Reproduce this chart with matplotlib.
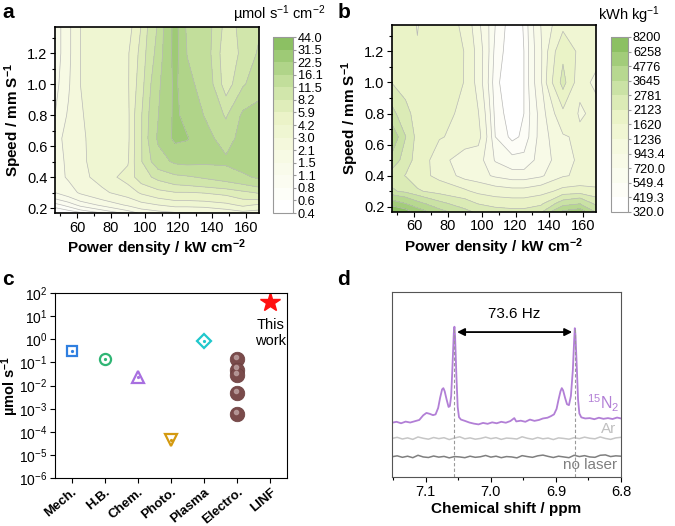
import numpy as np
import matplotlib
matplotlib.use('Agg')
import matplotlib.pyplot as plt
from matplotlib.colors import LinearSegmentedColormap, BoundaryNorm
from matplotlib.ticker import MultipleLocator, FixedLocator, FormatStrFormatter
from matplotlib.transforms import offset_copy

plt.rcParams['font.family'] = ['Liberation Sans', 'DejaVu Sans']
plt.rcParams['mathtext.fontset'] = 'custom'
plt.rcParams['mathtext.rm'] = 'Liberation Sans'
plt.rcParams['mathtext.it'] = 'Liberation Sans:italic'
plt.rcParams['mathtext.bf'] = 'Liberation Sans:bold'

# ---- datos a / b (rejilla potencia x velocidad) ----
power = [47, 55, 62, 75, 90, 98, 108, 118, 125, 135, 148, 158, 167.5]
speed = [0.168, 0.22, 0.3, 0.4, 0.5, 0.65, 0.8, 1.0, 1.2, 1.37]

rate_a = [
    [0.4, 0.45, 0.55, 0.8, 1.2, 1.6, 1.8, 2.0, 2.0, 2.0, 2.3, 2.6, 2.4],
    [0.7, 0.9, 1.2, 1.6, 2.2, 2.6, 3.0, 3.3, 3.3, 3.4, 3.8, 4.5, 4.0],
    [1.5, 1.8, 2.2, 2.8, 3.5, 4.4, 5.2, 5.8, 5.8, 6.0, 6.5, 7.5, 8.5],
    [1.8, 2.2, 2.7, 3.4, 4.8, 7.0, 9.0, 10.5, 11.0, 12.0, 13.5, 15.0, 17.0],
    [1.7, 2.3, 2.8, 3.5, 4.0, 8.0, 14.0, 17.0, 17.5, 17.0, 17.0, 19.0, 22.0],
    [1.8, 2.4, 2.9, 3.3, 3.8, 8.0, 17.0, 24.0, 23.0, 18.0, 14.0, 18.0, 22.0],
    [1.5, 2.2, 2.9, 3.6, 3.8, 8.0, 16.0, 24.0, 20.0, 16.0, 11.0, 17.0, 18.0],
    [1.3, 2.0, 3.0, 3.7, 4.0, 7.0, 15.0, 24.0, 17.0, 15.0, 6.5, 11.0, 14.0],
    [1.2, 1.9, 3.0, 3.8, 4.0, 6.5, 13.0, 25.0, 16.0, 14.0, 6.0, 9.0, 12.0],
    [1.2, 1.9, 3.0, 3.7, 3.4, 6.0, 12.0, 25.0, 15.0, 14.0, 7.0, 9.0, 11.0],
]
energy_b = [
    [8200, 7000, 5500, 4000, 3000, 2600, 2400, 2300, 2300, 2600, 5000, 5500, 3500],
    [5500, 4800, 4000, 3000, 2400, 2100, 1900, 1850, 1850, 2000, 3200, 3600, 2600],
    [2900, 2600, 2200, 1900, 1700, 1500, 1400, 1350, 1350, 1450, 1750, 1800, 1700],
    [2400, 2100, 1800, 1500, 1100, 1050, 900, 800, 800, 900, 1200, 1300, 1400],
    [3300, 2400, 1900, 1400, 1000, 1050, 700, 600, 600, 800, 1100, 1300, 1500],
    [4400, 2800, 1900, 1650, 1500, 1350, 550, 380, 450, 800, 1200, 1300, 1400],
    [3000, 2300, 1900, 1800, 1500, 1250, 500, 340, 420, 800, 1500, 1200, 1300],
    [2100, 1900, 1700, 2000, 1600, 1100, 450, 330, 420, 900, 2300, 1300, 1200],
    [1900, 1800, 1650, 2100, 1600, 1100, 500, 330, 420, 900, 2000, 1500, 1300],
    [1900, 1800, 1600, 2000, 1500, 1000, 550, 330, 430, 950, 1500, 1600, 1400],
]
levels_a = [0.4, 0.6, 0.8, 1.1, 1.5, 2.1, 3.0, 4.2, 5.9, 8.2, 11.5, 16.1, 22.5, 31.5, 44.0]
labels_a = ['0.4', '0.6', '0.8', '1.1', '1.5', '2.1', '3.0', '4.2', '5.9', '8.2',
            '11.5', '16.1', '22.5', '31.5', '44.0']
levels_b = [320, 419.3, 549.4, 720, 943.4, 1236, 1620, 2123, 2781, 3645, 4776, 6258, 8200]
labels_b = ['320.0', '419.3', '549.4', '720.0', '943.4', '1236', '1620', '2123', '2781',
            '3645', '4776', '6258', '8200']

# ---- datos c ----
categories = ['Mech.', 'H.B.', 'Chem.', 'Photo.', 'Plasma', 'Electro.', 'LINF']
single_rates = {'Mech.': 0.32, 'H.B.': 0.135, 'Chem.': 0.024, 'Photo.': 4.5e-5, 'Plasma': 0.8}
electro_rates = [0.135, 0.047, 0.028, 0.0046, 0.00058]
linf_rate = 38

# ---- datos d (espectro RMN) ----
n2_ppm = [7.152, 7.145, 7.138, 7.131, 7.124, 7.117, 7.110, 7.104, 7.099, 7.094, 7.089, 7.085,
          7.081, 7.078, 7.075, 7.073, 7.071, 7.068, 7.065, 7.063, 7.061, 7.059, 7.057, 7.056,
          7.055, 7.053, 7.051, 7.049, 7.046, 7.040, 7.033, 7.026, 7.019, 7.012, 7.005, 6.998,
          6.991, 6.984, 6.977, 6.970, 6.964, 6.961, 6.954, 6.947, 6.940, 6.933, 6.926, 6.920,
          6.913, 6.908, 6.903, 6.899, 6.896, 6.893, 6.891, 6.889, 6.886, 6.883, 6.880, 6.877,
          6.874, 6.872, 6.871, 6.870, 6.868, 6.866, 6.864, 6.861, 6.855, 6.848, 6.841, 6.834,
          6.827, 6.820, 6.813, 6.806, 6.800]
n2_int = [29.5, 30.0, 29.2, 30.1, 29.6, 30.3, 31.0, 33.5, 34.8, 34.3, 33.6, 34.0,
          37.5, 43.0, 47.5, 48.2, 46.5, 42.0, 38.0, 38.5, 44.0, 60.0, 78.0, 81.4,
          76.0, 55.0, 38.0, 32.5, 31.2, 30.5, 29.6, 29.0, 28.6, 29.4, 28.9, 29.7,
          29.2, 30.0, 29.5, 30.4, 32.0, 30.2, 30.6, 30.0, 31.2, 30.5, 31.0, 31.8,
          32.2, 33.0, 34.0, 37.0, 42.0, 46.5, 48.2, 47.0, 43.0, 39.5, 39.0, 44.0,
          58.0, 74.0, 80.6, 77.0, 60.0, 42.0, 34.5, 32.4, 31.8, 32.0, 31.4, 32.2,
          31.6, 32.0, 31.5, 32.3, 31.8]
ar_int = [21.0, 21.6, 20.7, 21.3, 20.5, 21.8, 21.1, 20.6, 21.5, 20.9, 21.4, 20.4,
          21.2, 21.9, 20.8, 21.3, 20.6, 21.0, 21.7, 20.9, 21.4, 20.5, 21.2, 21.0,
          20.7, 21.9, 21.1, 20.6, 21.5, 20.8, 21.2, 20.4, 21.3, 21.0, 20.6, 21.4,
          20.9, 21.7, 21.1, 20.8, 21.8, 21.0, 20.5, 21.3, 21.6]
nolaser_int = [11.1, 11.6, 10.8, 11.4, 10.6, 11.9, 11.0, 10.7, 11.5, 10.9, 11.3, 10.5,
               11.2, 11.0, 10.6, 11.4, 10.8, 11.1, 11.8, 10.9, 11.4, 10.6, 11.2, 11.0,
               10.5, 11.7, 11.2, 10.8, 11.6, 12.0, 11.3, 10.7, 11.4, 11.0, 10.6, 11.9,
               11.2, 11.7, 11.0, 10.8, 11.9, 12.1, 11.2, 11.6, 11.4]
peak_ppm = [7.056, 6.871]
peak_top = 81

cmap = LinearSegmentedColormap.from_list(
    'wg', [(0, '#ffffff'), (0.35, '#f6f9e0'), (0.55, '#eaf3c6'), (0.75, '#c6e0a0'), (1, '#8cc063')])

fig = plt.figure(figsize=(6.75, 5.26), dpi=100)


def contour_panel(pos, cpos, z, levels, labels):
    ax = fig.add_axes(pos)
    X, Y = np.meshgrid(power, speed)
    Z = np.array(z)
    norm = BoundaryNorm(levels, cmap.N)
    cs = ax.contourf(X, Y, Z, levels=levels, cmap=cmap, norm=norm)
    ax.contour(X, Y, Z, levels=levels, colors='#b9b9b9', linewidths=0.5)
    ax.set_xlim(47, 167.5)
    ax.set_ylim(0.168, 1.37)
    ax.xaxis.set_major_locator(MultipleLocator(20))
    ax.xaxis.set_minor_locator(MultipleLocator(10))
    ax.yaxis.set_major_locator(MultipleLocator(0.2))
    ax.yaxis.set_minor_locator(MultipleLocator(0.1))
    ax.yaxis.set_major_formatter(FormatStrFormatter('%.1f'))
    ax.tick_params(which='both', direction='out', labelsize=10.5, width=0.8, pad=2)
    ax.tick_params(which='major', length=3.5)
    ax.tick_params(which='minor', length=2)
    for s in ax.spines.values():
        s.set_linewidth(1.2)
    ax.set_xlabel(r'Power density / kW cm$^{\mathbf{-2}}$', fontsize=11, fontweight='bold', labelpad=2)
    ax.set_ylabel(r'Speed / mm S$^{\mathbf{-1}}$', fontsize=11, fontweight='bold', labelpad=2)
    cax = fig.add_axes(cpos)
    cb = fig.colorbar(cs, cax=cax, ticks=levels)
    cb.ax.set_yticklabels(labels)
    cb.ax.tick_params(labelsize=9.2, length=2.5, color='#999999', pad=1)
    cb.outline.set_edgecolor('#999999')
    cb.outline.set_linewidth(0.8)
    return ax


ax_a = contour_panel([0.0815, 0.595, 0.3022, 0.3536], [0.4044, 0.595, 0.0296, 0.3346],
                     rate_a, levels_a, labels_a)
ax_b = contour_panel([0.5807, 0.5975, 0.3022, 0.355], [0.9052, 0.597, 0.0252, 0.3327],
                     energy_b, levels_b, labels_b)
fig.text(0.4815, 0.973, r'µmol s$^{-1}$ cm$^{-2}$', ha='right', va='center', fontsize=10.5)
fig.text(0.978, 0.971, r'kWh kg$^{-1}$', ha='right', va='center', fontsize=10.5)

# ---- panel c ----
ax_c = fig.add_axes([0.0815, 0.0907, 0.3437, 0.3528])
xpos = {c: i for i, c in enumerate(categories)}
styles = {'Mech.': ('s', '#2f7fe0', 7),
          'H.B.': ('o', '#2fb574', 8),
          'Chem.': ('^', '#a86fe0', 9),
          'Photo.': ('v', '#d49a10', 9),
          'Plasma': ('D', '#20c8cc', 7)}
for cat, val in single_rates.items():
    m, col, ms = styles[cat]
    ax_c.plot(xpos[cat], val, marker=m, ms=ms, mfc='white', mec=col, mew=1.6, ls='none')
    ax_c.plot(xpos[cat], val, marker='o', ms=1.3, color=col, ls='none')
ex = [xpos['Electro.']] * len(electro_rates)
ax_c.plot(ex, electro_rates, 'o', ms=10.5, mfc='#7a4b4b', mec='#6a3e3e', mew=0.5, ls='none')
hl = offset_copy(ax_c.transData, fig=fig, x=-1.0, y=1.8, units='points')
ax_c.plot(ex, electro_rates, 'o', ms=3.0, color='#b89a9a', ls='none', transform=hl, alpha=0.9)
ax_c.plot(xpos['LINF'], linf_rate, marker='*', ms=15, color='#ff1010', ls='none')
ax_c.text(xpos['LINF'], 1.8, 'This\nwork', ha='center', va='center', fontsize=10.5, linespacing=1.2)
ax_c.set_yscale('log')
ax_c.set_ylim(1e-6, 1e2)
ax_c.set_xlim(-0.5, 6.5)
ax_c.yaxis.set_major_locator(FixedLocator([10.0 ** k for k in range(-6, 3)]))
ax_c.yaxis.set_minor_locator(FixedLocator([]))
ax_c.set_yticklabels([r'$\mathregular{10^{%d}}$' % k for k in range(-6, 3)])
ax_c.set_xticks(range(len(categories)))
ax_c.set_xticklabels(categories, rotation=40, ha='right', rotation_mode='anchor',
                     fontsize=9.5, fontweight='bold')
ax_c.tick_params(direction='out', labelsize=10, length=3.5, width=0.8, pad=2)
ax_c.tick_params(axis='x', labelsize=9.5)
ax_c.set_ylabel(r'µmol s$^{\mathbf{-1}}$', fontsize=10.5, fontweight='bold')
ax_c.yaxis.set_label_coords(-0.145, 0.5)

# ---- panel d ----
ax_d = fig.add_axes([0.5807, 0.0926, 0.3393, 0.3517])
grid_ppm = np.linspace(7.152, 6.800, len(ar_int))
ax_d.plot(grid_ppm, nolaser_int, color='#7f7f7f', lw=1.1)
ax_d.plot(grid_ppm, ar_int, color='#c6c6c6', lw=1.1)
ax_d.plot(n2_ppm, n2_int, color='#b27fd6', lw=1.3)
for p in peak_ppm:
    ax_d.plot([p, p], [0, peak_top], color='#9a9a9a', lw=0.8, ls=(0, (3, 2)))
ax_d.annotate('', xy=(peak_ppm[1] + 0.004, 78.5), xytext=(peak_ppm[0] - 0.004, 78.5),
              arrowprops=dict(arrowstyle='<|-|>', color='black', lw=1.3, mutation_scale=11,
                              shrinkA=0, shrinkB=0))
ax_d.text(6.964, 88, '73.6 Hz', ha='center', va='center', fontsize=11)
ax_d.text(6.803, 40, r'$\mathregular{^{15}N_2}$', color='#b27fd6', ha='right', va='center', fontsize=11.5)
ax_d.text(6.807, 26, 'Ar', color='#c0c0c0', ha='right', va='center', fontsize=11)
ax_d.text(6.806, 6.5, 'no laser', color='#7f7f7f', ha='right', va='center', fontsize=11)
ax_d.set_xlim(7.152, 6.8)
ax_d.set_ylim(0, 100)
ax_d.set_yticks([])
ax_d.xaxis.set_major_locator(MultipleLocator(0.1))
ax_d.xaxis.set_minor_locator(MultipleLocator(0.05))
ax_d.xaxis.set_major_formatter(FormatStrFormatter('%.1f'))
ax_d.tick_params(which='both', direction='out', labelsize=10.5, width=0.8, pad=2)
ax_d.tick_params(which='major', length=3.5)
ax_d.tick_params(which='minor', length=2)
for s in ax_d.spines.values():
    s.set_color('#555555')
ax_d.set_xlabel('Chemical shift / ppm', fontsize=11, fontweight='bold', labelpad=2)

for lbl, x, y in [('a', 0.003, 0.995), ('b', 0.5, 0.995), ('c', 0.003, 0.487), ('d', 0.5, 0.487)]:
    fig.text(x, y, lbl, fontsize=15, fontweight='bold', ha='left', va='top')

fig.savefig('out.png', dpi=100)
